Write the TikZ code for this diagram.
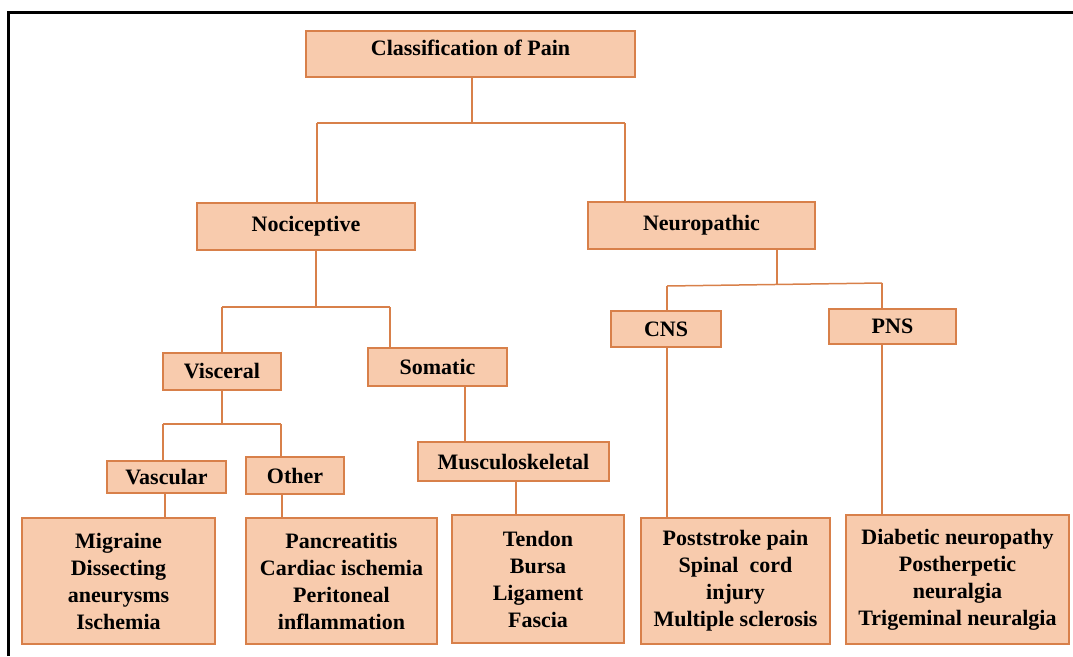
\documentclass[tikz,border=0pt]{standalone}
\usepackage{fontspec}
\setmainfont{Liberation Serif}
\definecolor{boxfill}{HTML}{F8CBAD}
\definecolor{boxline}{HTML}{D8804A}
\begin{document}
\begin{tikzpicture}[x=1pt,y=-1pt,
  box/.style={draw=boxline, fill=boxfill, line width=1.6pt, inner sep=0pt,
    align=center, text=black, font=\fontsize{22}{27}\selectfont\bfseries},
  link/.style={draw=boxline, line width=1.5pt},
  frame/.style={draw=black, line width=3pt, line join=miter}]
\useasboundingbox (0,0) rectangle (1073,656);

% outer frame (top and left edges)
\coordinate (fbl) at (8,656);
\coordinate (ftl) at (8,12);
\coordinate (ftr) at (1073,12);
\draw[frame] (fbl) -- (ftl) -- (ftr);

% boxes
\node[box, minimum width=329pt, minimum height=46pt, text height=15pt, text depth=13pt] (root) at (470.5,54) {Classification of Pain};
\node[box, minimum width=218pt, minimum height=47pt] (noci)  at (306,226.5) {Nociceptive};
\node[box, minimum width=227pt, minimum height=47pt] (neuro) at (701.5,225.5) {Neuropathic};
\node[box, minimum width=118pt, minimum height=37pt] (visc)  at (222,371.5) {Visceral};
\node[box, minimum width=139pt, minimum height=38pt] (soma)  at (437.5,367) {Somatic};
\node[box, minimum width=110pt, minimum height=36pt] (cns)   at (666,329) {CNS};
\node[box, minimum width=127pt, minimum height=35pt] (pns)   at (892.5,326.5) {PNS};
\node[box, minimum width=119pt, minimum height=32pt] (vasc)  at (166.5,477) {Vascular};
\node[box, minimum width=98pt,  minimum height=37pt] (other) at (295,475.5) {Other};
\node[box, minimum width=191pt, minimum height=39pt] (musc)  at (513.5,461.5) {Musculoskeletal};
\node[box, minimum width=193pt, minimum height=126pt] (migr) at (118.5,581) {Migraine\\Dissecting\\aneurysms\\Ischemia};
\node[box, minimum width=191pt, minimum height=126pt] (panc) at (341.5,581) {Pancreatitis\\Cardiac ischemia\\Peritoneal\\inflammation};
\node[box, minimum width=172pt, minimum height=128pt] (tend) at (538,579) {Tendon\\Bursa\\Ligament\\Fascia};
\node[box, minimum width=189pt, minimum height=126pt] (post) at (735.5,581) {Poststroke pain\\Spinal\ \ cord\\injury\\Multiple sclerosis};
\node[box, minimum width=223pt, minimum height=129pt] (diab) at (957.5,579.5) {Diabetic neuropathy\\Postherpetic\\neuralgia\\Trigeminal neuralgia};

% junction points
\coordinate (j0)  at (472,123);
\coordinate (j0l) at (317,123);
\coordinate (j0r) at (625,123);
\coordinate (j1)  at (316,307);
\coordinate (j1l) at (222,307);
\coordinate (j1r) at (390,307);
\coordinate (j2)  at (222,424);
\coordinate (j2l) at (163,424);
\coordinate (j2r) at (281,424);
\coordinate (j3)  at (777,285);
\coordinate (j3l) at (667,286);
\coordinate (j3r) at (882,283);

% root split
\draw[link] (root.south -| j0) -- (j0);
\draw[link] (j0l) -- (j0r);
\draw[link] (j0l) -- (j0l |- noci.north);
\draw[link] (j0r) -- (j0r |- neuro.north);

% nociceptive split
\draw[link] (noci.south -| j1) -- (j1);
\draw[link] (j1l) -- (j1r);
\draw[link] (j1l) -- (j1l |- visc.north);
\draw[link] (j1r) -- (j1r |- soma.north);

% visceral split
\draw[link] (visc.south -| j2) -- (j2);
\draw[link] (j2l) -- (j2r);
\draw[link] (j2l) -- (j2l |- vasc.north);
\draw[link] (j2r) -- (j2r |- other.north);

% neuropathic split
\draw[link] (neuro.south -| j3) -- (j3);
\draw[link] (j3l) -- (j3r);
\draw[link] (j3l) -- (j3l |- cns.north);
\draw[link] (j3r) -- (j3r |- pns.north);

% single descents
\draw[link] ([xshift=-1.5pt]vasc.south) -- ([xshift=-1.5pt]vasc.south |- migr.north);
\draw[link] ([xshift=-13pt]other.south) -- ([xshift=-13pt]other.south |- panc.north);
\draw[link] ([xshift=27.5pt]soma.south) -- ([xshift=27.5pt]soma.south |- musc.north);
\draw[link] ([xshift=2.5pt]musc.south) -- ([xshift=2.5pt]musc.south |- tend.north);
\draw[link] ([xshift=1pt]cns.south) -- ([xshift=1pt]cns.south |- post.north);
\draw[link] ([xshift=-10.5pt]pns.south) -- ([xshift=-10.5pt]pns.south |- diab.north);
\end{tikzpicture}
\end{document}
